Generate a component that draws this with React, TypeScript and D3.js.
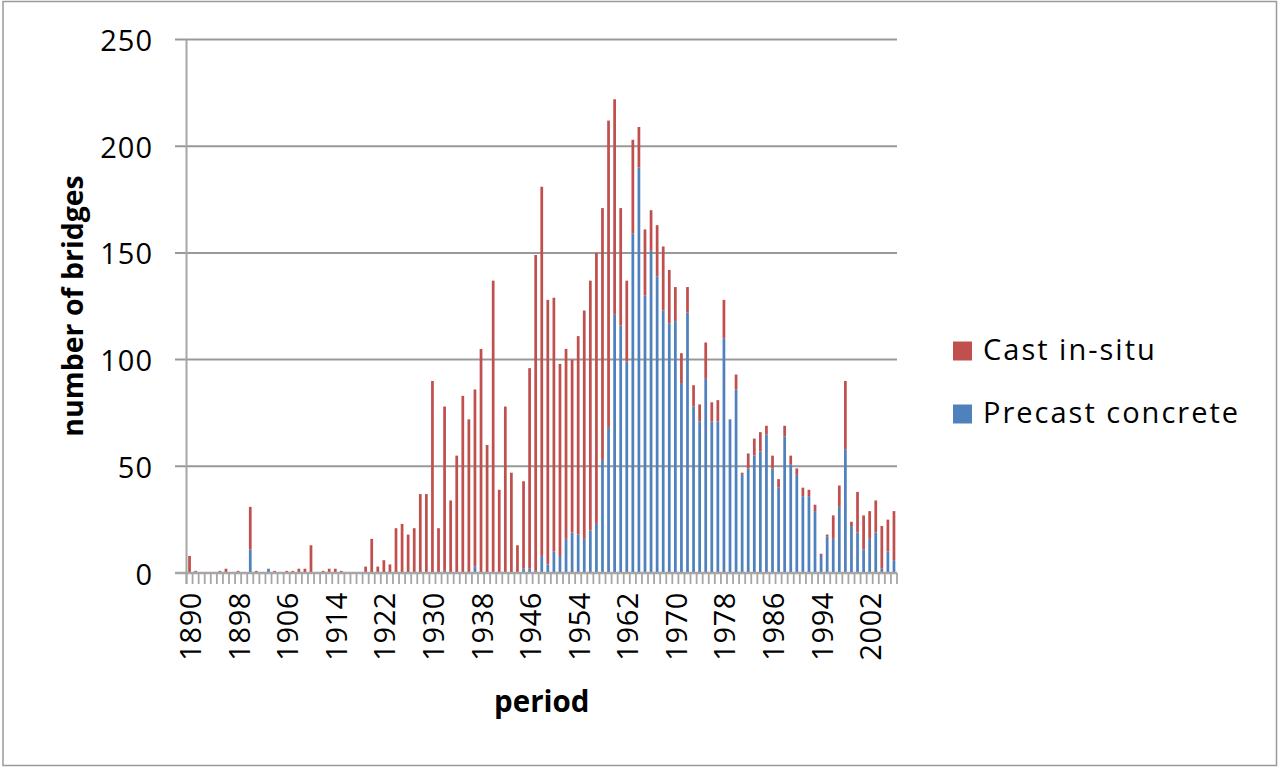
import React from "react";
import * as d3 from "d3";

// Categories: construction years 1890–2006
const years: string[] = d3.range(1890, 2007).map(String);

// Tick labels shown on the category axis
const xTickLabels: string[] = ["1890", "1898", "1906", "1914", "1922", "1930", "1938", "1946", "1954", "1962", "1970", "1978", "1986", "1994", "2002"];
const yTicks: number[] = [0, 50, 100, 150, 200, 250];

// Precast concrete (blue, bottom of stack)
const precast: number[] = [
  0, 0, 0, 0, 0, 0, 0, 0, 0, 0,
  11, 0, 0, 2, 0, 0, 0, 0, 0, 0,
  0, 0, 0, 0, 0, 0, 0, 0, 0, 0,
  0, 0, 0, 0, 0, 0, 0, 0, 0, 0,
  0, 0, 1, 0, 0, 0, 0, 3, 0, 0,
  0, 0, 0, 0, 0, 2, 2, 1, 8, 4,
  10, 8, 16, 19, 18, 16, 20, 23, 53, 68,
  121, 116, 99, 159, 190, 130, 151, 139, 123, 117,
  118, 89, 122, 78, 71, 91, 71, 71, 110, 72,
  86, 46, 49, 55, 57, 65, 49, 40, 64, 51,
  46, 36, 36, 29, 8, 17, 16, 31, 58, 22,
  19, 11, 16, 19, 2, 10, 6,
];

// Cast in-situ (red, top of stack)
const castInSitu: number[] = [
  8, 1, 0, 0, 0, 1, 2, 0, 1, 0,
  20, 1, 0, 0, 1, 0, 1, 1, 2, 2,
  13, 0, 1, 2, 2, 1, 0, 0, 0, 3,
  16, 3, 6, 4, 21, 23, 18, 21, 37, 37,
  90, 21, 77, 34, 55, 83, 72, 83, 105, 60,
  137, 39, 78, 47, 13, 41, 94, 148, 173, 124,
  119, 90, 89, 81, 93, 107, 117, 127, 118, 144,
  101, 55, 38, 44, 19, 31, 19, 24, 30, 25,
  16, 14, 12, 10, 8, 17, 9, 10, 18, 0,
  7, 1, 7, 8, 9, 4, 6, 4, 5, 4,
  3, 4, 3, 3, 1, 1, 11, 10, 32, 2,
  19, 16, 13, 15, 20, 15, 23,
];

const seriesKeys = ["precast", "castInSitu"];
const seriesColors: Record<string, string> = { precast: "#4F81BD", castInSitu: "#C0504D" };
const legendItems = [
  { key: "castInSitu", label: "Cast in-situ" },
  { key: "precast", label: "Precast concrete" },
];

const W = 1280;
const H = 768;
const M = { left: 186.5, right: 897, top: 39.5, bottom: 573 };
const FONT = "'Open Sans', 'Liberation Sans', Arial, sans-serif";

export default function App() {
  const rows = years.map((yr, i) => ({ year: yr, precast: precast[i], castInSitu: castInSitu[i] }));
  const stacked = d3.stack<any>().keys(seriesKeys)(rows);

  const x = d3
    .scaleBand<string>()
    .domain(years)
    .range([M.left, M.right])
    .paddingInner(0.55)
    .paddingOuter(0.275);
  const y = d3.scaleLinear().domain([0, 250]).range([M.bottom, M.top]);
  const step = x.step();
  const x0 = M.left;

  const gridColor = "#999999";
  const axisColor = "#a6a6a6";

  return (
    <div style={{ position: "fixed", left: 0, top: 0, width: W, height: H, background: "#fff" }}>
      <svg width={W} height={H} style={{ display: "block" }}>
        <rect x={0} y={0} width={W} height={H} fill="#fff" />
        <rect x={3} y={1.5} width={1273.5} height={764} fill="none" stroke="#9a9a9a" strokeWidth={1.5} />

        {/* gridlines */}
        {yTicks.filter((t) => t > 0).map((t) => (
          <line key={"g" + t} x1={175} x2={M.right} y1={y(t)} y2={y(t)} stroke={gridColor} strokeWidth={2} />
        ))}

        {/* bars */}
        {stacked.map((s) => (
          <g key={s.key} fill={seriesColors[s.key]}>
            {s.map((d, i) =>
              d[1] - d[0] > 0 ? (
                <rect
                  key={i}
                  x={x(years[i])}
                  y={y(d[1])}
                  width={x.bandwidth()}
                  height={y(d[0]) - y(d[1])}
                />
              ) : null
            )}
          </g>
        ))}

        {/* category tick marks */}
        {d3.range(years.length + 1).map((i) => (
          <line
            key={"t" + i}
            x1={x0 + i * step}
            x2={x0 + i * step}
            y1={M.bottom}
            y2={M.bottom + 11}
            stroke={axisColor}
            strokeWidth={1.8}
          />
        ))}
        {/* axes */}
        <line x1={175} x2={M.right} y1={M.bottom} y2={M.bottom} stroke={axisColor} strokeWidth={2.5} />
        <line x1={M.left} x2={M.left} y1={M.top} y2={M.bottom + 11} stroke={axisColor} strokeWidth={2} />

        {/* y tick labels */}
        {yTicks.map((t) => (
          <text
            key={"yl" + t}
            x={153}
            y={y(t)}
            textAnchor="end"
            dominantBaseline="central"
            fontFamily={FONT}
            fontSize={29}
            letterSpacing={1.0}
            fill="#000"
          >
            {t}
          </text>
        ))}

        {/* x tick labels */}
        {xTickLabels.map((lab) => {
          const cx = (x(lab) as number) + x.bandwidth() / 2;
          return (
            <text
              key={"xl" + lab}
              transform={`translate(${cx},${592}) rotate(-90)`}
              textAnchor="end"
              dominantBaseline="central"
              fontFamily={FONT}
              fontSize={29}
              letterSpacing={0.6}
              fill="#000"
            >
              {lab}
            </text>
          );
        })}

        {/* axis titles */}
        <text
          transform={`translate(${83},${306}) rotate(-90)`}
          textAnchor="middle"
          fontFamily={FONT}
          fontWeight={700}
          fontSize={28.5}
          fill="#000"
        >
          number of bridges
        </text>
        <text
          x={(M.left + M.right) / 2}
          y={712}
          textAnchor="middle"
          fontFamily={FONT}
          fontWeight={700}
          fontSize={29.5}
          fill="#000"
        >
          period
        </text>

        {/* legend */}
        {legendItems.map((it, i) => (
          <g key={it.key} transform={`translate(953,${341.5 + i * 63})`}>
            <rect x={0} y={0} width={19} height={19} fill={seriesColors[it.key]} />
            <text
              x={30}
              y={18.5}
              fontFamily={FONT}
              fontSize={29}
              letterSpacing={2.0}
              fill="#000"
            >
              {it.label}
            </text>
          </g>
        ))}
      </svg>
    </div>
  );
}
